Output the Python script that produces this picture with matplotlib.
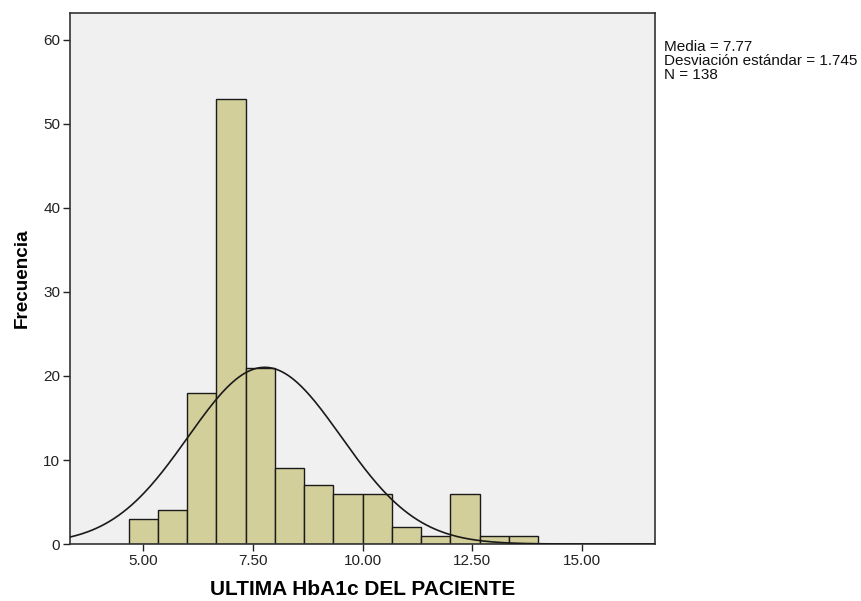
import numpy as np
import matplotlib
matplotlib.use("Agg")
from matplotlib import pyplot as plt

# histogram of last HbA1c per patient (SPSS style)
binEdges = [4.667, 5.333, 6.0, 6.667, 7.333, 8.0, 8.667, 9.333, 10.0,
            10.667, 11.333, 12.0, 12.667, 13.333, 14.0]
counts = [3, 4, 18, 53, 21, 9, 7, 6, 6, 2, 1, 6, 1, 1]
xTicks = [5.0, 7.5, 10.0, 12.5, 15.0]
yTicks = [0, 10, 20, 30, 40, 50, 60]
meanVal = 7.77
sdVal = 1.745
nVal = 138

plt.rcParams["font.family"] = ["Liberation Sans", "DejaVu Sans"]

fig = plt.figure(figsize=(8.62, 6.01), dpi=100)
ax = fig.add_axes([0.0812, 0.0948, 0.6788, 0.8835])
ax.set_facecolor("#f0f0f0")

lefts = np.array(binEdges[:-1])
widths = np.diff(binEdges)
ax.bar(lefts, counts, width=widths, align="edge", color="#d3cf9b", edgecolor="#1a1a1a", linewidth=1.0, zorder=2)

binWidth = widths.mean()
xs = np.linspace(3.333, 16.667, 400)
ys = nVal * binWidth * np.exp(-0.5 * ((xs - meanVal) / sdVal) ** 2) / (sdVal * np.sqrt(2 * np.pi))
ax.plot(xs, ys, color="#1a1a1a", linewidth=1.2, zorder=3)

ax.set_xlim(3.333, 16.667)
ax.set_ylim(0, 63.2)
ax.set_xticks(xTicks)
ax.set_xticklabels(["%.2f" % t for t in xTicks])
ax.set_yticks(yTicks)
ax.tick_params(direction="out", length=5, width=1, colors="#222222", labelsize=11, pad=2)
for sp in ax.spines.values():
    sp.set_color("#333333")
    sp.set_linewidth(1.2)

ax.set_xlabel("ULTIMA HbA1c DEL PACIENTE", fontsize=15, fontweight="bold", labelpad=9)
ax.set_ylabel("Frecuencia", fontsize=13.6, fontweight="bold", labelpad=9)

fig.text(0.770, 0.934, "Media = %.2f\nDesviación estándar = %.3f\nN = %d" % (meanVal, sdVal, nVal),
         fontsize=11, va="top", ha="left", linespacing=1.0, color="#111111")

fig.savefig("out.png", dpi=100, facecolor="white")
